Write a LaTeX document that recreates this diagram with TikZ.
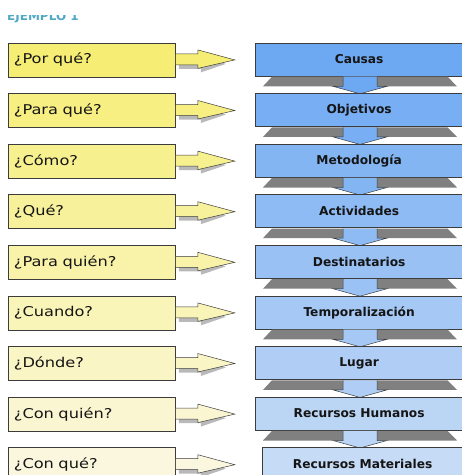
\documentclass[tikz,border=0pt]{standalone}
\usepackage{fontspec}
\setmainfont{DejaVu Sans}
\newfontfamily\qfont[FakeStretch=1.2]{DejaVu Sans}
\usetikzlibrary{calc}
\definecolor{yA}{HTML}{F6EE74}
\definecolor{yB}{HTML}{FBF7DF}
\definecolor{bA}{HTML}{6DA8F2}
\definecolor{bB}{HTML}{C6DBF6}
\definecolor{edgecol}{HTML}{3C3C3C}
\definecolor{shadecol}{HTML}{808080}
\definecolor{hdcol}{HTML}{4FA8C4}
\definecolor{txtcol}{HTML}{151515}
\tikzset{
  qbox/.style={draw=edgecol, line width=0.8pt, minimum height=34pt, text width=156pt,
    inner xsep=5.5pt, inner ysep=0pt, align=left, anchor=north west,
    font=\qfont\fontsize{13.5}{15}\selectfont, text=txtcol},
  bbox/.style={draw=edgecol, line width=0.8pt, minimum height=33pt, inner sep=0pt,
    anchor=north west, font=\bfseries\fontsize{12.2}{14}\selectfont, text=txtcol},
  yarrow/.style={draw=edgecol, line width=0.5pt},
  yshadow/.style={fill=shadecol, opacity=0.55},
  bshadow/.style={fill=shadecol},
  barrow/.style={draw=edgecol, line width=0.5pt}
}
\begin{document}
\begin{tikzpicture}[x=1pt,y=-1pt]
\useasboundingbox (0,0) rectangle (462,475);
\begin{scope}
  \clip (0,15) rectangle (200,30);
  \node[anchor=base west, inner sep=0pt, text=hdcol, font=\bfseries\fontsize{12}{13}\selectfont] (hd) at (7,20.5) {EJEMPLO 1};
\end{scope}
\foreach \i/\qq/\bb in {0/{¿Por qué?}/Causas, 1/{¿Para qué?}/Objetivos, 2/{¿Cómo?}/Metodología, 3/{¿Qué?}/Actividades, 4/{¿Para quién?}/Destinatarios, 5/{¿Cuando?}/Temporalización, 6/{¿Dónde?}/Lugar, 7/{¿Con quién?}/Recursos Humanos, 8/{¿Con qué?}/Recursos Materiales}{
  \pgfmathsetmacro\pc{100-12.5*\i}
  \pgfmathsetmacro\yt{42.5+50.6*\i}
  \colorlet{yc}{yA!\pc!yB}
  \colorlet{bc}{bA!\pc!bB}
  % question box
  \node[qbox, fill=yc] (q\i) at (8,\yt) {\qq};
  % yellow arrow
  \begin{scope}[shift={(q\i.east)}]
    \fill[yshadow] (3,-2) -- (25,-2) -- (25,-4) -- (50,4) -- (25,12.5) -- (25,9) -- (3,9) -- cycle;
    \fill[yc] (0,-6) -- (22,-6) -- (22,-10) -- (59,0) -- (22,8.5) -- (22,5) -- (0,5) -- cycle;
    \draw[yarrow] (0,-6) -- (22,-6) -- (22,-10) -- (59,0) -- (22,8.5) -- (22,5) -- (0,5);
  \end{scope}
  % answer box
  \ifnum\i<8
    \node[bbox, fill=bc, minimum width=207.5pt] (b\i) at (255,\yt) {\bb};
    \begin{scope}[shift={(b\i.south west)}]
      \fill[bshadow] (17,0.4) -- (192.5,0.4) -- (202,10) -- (8,10) -- cycle;
      \fill[bc] (88,0.4) -- (122,0.4) -- (122,10) -- (132,10) -- (105,17.5) -- (78,10) -- (88,10) -- cycle;
      \draw[barrow] (88,0.4) -- (88,10) -- (78,10) -- (105,17.5) -- (132,10) -- (122,10) -- (122,0.4);
    \end{scope}
  \else
    \node[bbox, fill=bc, minimum width=200.5pt] (b\i) at (262,\yt) {\bb};
  \fi
}
\end{tikzpicture}
\end{document}
